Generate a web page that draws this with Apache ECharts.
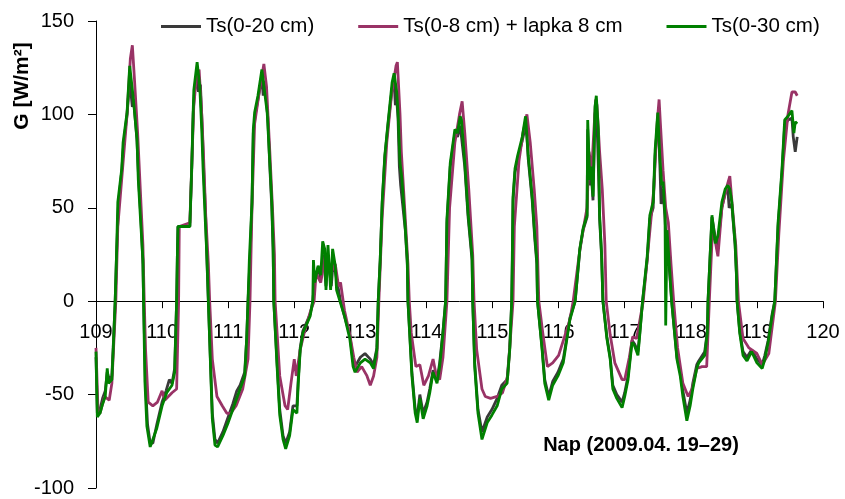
<!DOCTYPE html>
<html>
<head>
<meta charset="utf-8">
<script src="https://cdn.jsdelivr.net/npm/echarts@6/dist/echarts.min.js"></script>
<style>
html,body{margin:0;padding:0;background:#fff;}
#main{width:845px;height:499px;}
</style>
</head>
<body>
<div id="main"></div>
<script>
// tengely beosztások
var xTicks = [109, 120, 1];
var yTicks = [-100, 150, 50];
var names = ['Ts(0-20 cm)', 'Ts(0-8 cm) + lapka 8 cm', 'Ts(0-30 cm)'];

// [nap, G] párok, leolvasva az ábráról
var ts20 = [[109.00,-30],[109.02,-60],[109.06,-58],[109.10,-52],[109.14,-48],[109.17,-38],[109.20,-42],[109.24,-40],[109.26,-25],[109.29,0],[109.31,24],[109.34,52],[109.39,70],[109.42,85],[109.47,100],[109.51,118],[109.53,117],[109.55,104],[109.57,108],[109.62,86],[109.65,62],[109.68,44],[109.71,20],[109.72,0],[109.75,-45],[109.78,-66],[109.82,-76],[109.86,-76],[109.92,-66],[110.00,-54],[110.06,-48],[110.11,-42],[110.15,-44],[110.19,-36],[110.22,0],[110.23,22],[110.24,40],[110.42,40],[110.45,72],[110.47,100],[110.49,112],[110.53,120],[110.55,112],[110.58,116],[110.61,90],[110.63,70],[110.66,44],[110.68,20],[110.70,0],[110.76,-60],[110.80,-74],[110.84,-76],[110.92,-70],[111.00,-62],[111.07,-55],[111.13,-48],[111.18,-45],[111.25,-38],[111.28,-20],[111.30,0],[111.33,22],[111.36,52],[111.38,90],[111.41,100],[111.45,108],[111.51,120],[111.53,110],[111.55,118],[111.60,98],[111.63,72],[111.66,50],[111.68,27],[111.69,0],[111.74,-33],[111.78,-58],[111.83,-72],[111.87,-76],[111.93,-70],[111.98,-56],[112.04,-56],[112.06,-42],[112.09,-25],[112.13,-16],[112.24,-7],[112.28,0],[112.31,12],[112.36,18],[112.40,12],[112.44,25],[112.48,8],[112.51,24],[112.56,8],[112.59,22],[112.63,14],[112.70,0],[112.76,-8],[112.84,-18],[112.89,-32],[112.92,-35],[113.00,-30],[113.07,-28],[113.15,-31],[113.20,-34],[113.25,-25],[113.27,0],[113.30,22],[113.33,52],[113.37,77],[113.42,95],[113.48,114],[113.51,118],[113.53,105],[113.55,108],[113.57,98],[113.59,72],[113.61,62],[113.68,38],[113.71,20],[113.72,0],[113.78,-38],[113.83,-58],[113.86,-62],[113.90,-50],[113.95,-60],[114.01,-54],[114.05,-47],[114.10,-37],[114.16,-42],[114.20,-33],[114.25,-16],[114.29,0],[114.31,42],[114.36,72],[114.43,90],[114.47,88],[114.51,94],[114.53,88],[114.58,72],[114.63,45],[114.69,22],[114.70,0],[114.73,-33],[114.78,-58],[114.84,-70],[114.86,-71],[114.92,-62],[114.99,-58],[115.07,-52],[115.14,-45],[115.22,-42],[115.26,-25],[115.29,0],[115.31,54],[115.34,69],[115.38,76],[115.45,86],[115.50,94],[115.52,88],[115.54,76],[115.60,54],[115.64,33],[115.67,20],[115.68,0],[115.75,-25],[115.79,-42],[115.85,-51],[115.91,-43],[115.99,-38],[116.07,-31],[116.13,-18],[116.17,-9],[116.25,0],[116.32,27],[116.37,38],[116.43,45],[116.44,92],[116.47,62],[116.49,70],[116.52,54],[116.55,100],[116.57,105],[116.59,85],[116.61,60],[116.62,44],[116.65,24],[116.67,0],[116.73,-19],[116.78,-30],[116.82,-45],[116.88,-50],[116.96,-54],[117.00,-49],[117.05,-40],[117.11,-21],[117.15,-23],[117.20,-27],[117.23,-16],[117.27,0],[117.34,22],[117.38,44],[117.43,50],[117.46,78],[117.49,92],[117.51,96],[117.53,75],[117.55,52],[117.58,60],[117.61,44],[117.63,30],[117.67,20],[117.71,0],[117.79,-30],[117.84,-38],[117.88,-48],[117.94,-60],[117.99,-53],[118.03,-44],[118.09,-34],[118.12,-32],[118.21,-27],[118.25,-16],[118.26,0],[118.32,45],[118.37,34],[118.40,28],[118.47,50],[118.52,58],[118.56,60],[118.58,50],[118.62,52],[118.67,30],[118.69,14],[118.70,0],[118.74,-16],[118.79,-27],[118.85,-30],[118.92,-26],[119.00,-31],[119.08,-34],[119.12,-29],[119.17,-21],[119.23,-7],[119.27,0],[119.32,40],[119.38,69],[119.42,94],[119.47,97],[119.53,98],[119.55,88],[119.58,80],[119.61,88]];

var ts8 = [[109.00,-25],[109.03,-58],[109.06,-60],[109.13,-51],[109.20,-53],[109.24,-44],[109.30,0],[109.33,40],[109.40,70],[109.47,100],[109.52,130],[109.55,137],[109.58,120],[109.63,90],[109.67,60],[109.71,30],[109.73,0],[109.75,-26],[109.79,-54],[109.86,-56],[109.93,-54],[110.00,-48],[110.04,-53],[110.15,-49],[110.22,-47],[110.25,0],[110.26,40],[110.42,42],[110.45,74],[110.48,105],[110.52,120],[110.56,124],[110.60,100],[110.63,75],[110.66,46],[110.70,20],[110.72,0],[110.76,-31],[110.83,-51],[110.91,-56],[110.98,-60],[111.04,-60],[111.12,-56],[111.22,-47],[111.30,-31],[111.33,0],[111.36,50],[111.40,95],[111.47,112],[111.54,127],[111.58,115],[111.63,80],[111.67,50],[111.70,25],[111.71,0],[111.74,-17],[111.78,-40],[111.86,-56],[111.90,-58],[111.95,-44],[112.00,-31],[112.03,-40],[112.09,-26],[112.15,-17],[112.24,-6],[112.30,0],[112.33,15],[112.40,10],[112.47,25],[112.55,15],[112.62,20],[112.67,8],[112.70,10],[112.76,-5],[112.84,-18],[112.90,-30],[112.95,-38],[113.02,-35],[113.10,-40],[113.15,-45],[113.20,-40],[113.25,-30],[113.28,0],[113.33,45],[113.40,85],[113.47,110],[113.54,126],[113.56,128],[113.60,100],[113.62,80],[113.67,50],[113.72,20],[113.74,0],[113.77,-17],[113.84,-35],[113.90,-34],[113.96,-45],[114.03,-40],[114.10,-31],[114.15,-40],[114.20,-42],[114.25,-30],[114.31,0],[114.35,50],[114.43,85],[114.50,100],[114.54,107],[114.58,90],[114.64,60],[114.70,25],[114.72,0],[114.76,-26],[114.84,-47],[114.89,-51],[114.97,-52],[115.07,-51],[115.15,-49],[115.23,-40],[115.31,0],[115.33,40],[115.40,75],[115.46,90],[115.52,100],[115.57,85],[115.63,60],[115.67,40],[115.70,0],[115.76,-17],[115.83,-35],[115.91,-33],[116.00,-29],[116.08,-20],[116.17,-10],[116.22,0],[116.33,30],[116.43,50],[116.46,80],[116.50,70],[116.56,108],[116.58,105],[116.62,80],[116.66,60],[116.70,30],[116.72,0],[116.78,-18],[116.85,-33],[116.96,-42],[117.00,-42],[117.07,-30],[117.12,-19],[117.18,-20],[117.28,0],[117.36,30],[117.44,60],[117.49,95],[117.52,108],[117.54,95],[117.58,70],[117.62,50],[117.66,42],[117.70,20],[117.74,0],[117.80,-25],[117.88,-44],[117.96,-51],[118.02,-47],[118.09,-36],[118.17,-35],[118.24,-35],[118.28,0],[118.33,40],[118.41,24],[118.47,50],[118.55,62],[118.59,67],[118.63,50],[118.68,30],[118.72,0],[118.79,-20],[118.88,-25],[119.00,-28],[119.08,-34],[119.18,-28],[119.28,0],[119.33,35],[119.40,75],[119.47,100],[119.53,112],[119.58,112],[119.61,110]];

var ts30 = [[109.00,-27],[109.02,-62],[109.06,-60],[109.10,-55],[109.14,-51],[109.17,-36],[109.19,-44],[109.24,-42],[109.26,-26],[109.29,0],[109.31,24],[109.33,53],[109.39,71],[109.41,85],[109.47,101],[109.51,126],[109.53,127],[109.56,110],[109.62,87],[109.64,65],[109.67,46],[109.71,22],[109.72,0],[109.74,-43],[109.77,-67],[109.82,-78],[109.85,-78],[109.92,-68],[110.00,-56],[110.07,-49],[110.15,-45],[110.19,-38],[110.22,0],[110.23,22],[110.24,40],[110.42,40],[110.45,74],[110.47,101],[110.48,113],[110.53,128],[110.57,115],[110.60,92],[110.62,71],[110.65,46],[110.68,22],[110.70,0],[110.76,-63],[110.80,-77],[110.84,-78],[110.92,-72],[111.00,-65],[111.07,-58],[111.18,-47],[111.25,-40],[111.28,-20],[111.30,0],[111.32,22],[111.36,53],[111.38,92],[111.40,101],[111.45,110],[111.51,124],[111.59,101],[111.63,74],[111.66,53],[111.68,29],[111.69,0],[111.74,-35],[111.78,-61],[111.83,-74],[111.87,-79],[111.93,-72],[111.98,-58],[112.04,-60],[112.06,-44],[112.09,-26],[112.13,-17],[112.24,-8],[112.28,0],[112.29,22],[112.31,10],[112.36,19],[112.40,14],[112.43,32],[112.46,28],[112.48,6],[112.51,30],[112.55,6],[112.58,28],[112.62,19],[112.64,6],[112.70,-1],[112.76,-8],[112.84,-20],[112.89,-35],[112.92,-38],[113.00,-33],[113.07,-31],[113.15,-33],[113.20,-36],[113.25,-26],[113.27,0],[113.30,22],[113.33,53],[113.37,78],[113.42,96],[113.48,117],[113.51,122],[113.55,112],[113.57,101],[113.60,74],[113.63,65],[113.68,39],[113.71,22],[113.72,0],[113.78,-40],[113.83,-60],[113.86,-65],[113.90,-52],[113.95,-63],[114.01,-56],[114.05,-49],[114.10,-38],[114.16,-44],[114.20,-35],[114.25,-17],[114.29,0],[114.31,44],[114.36,74],[114.43,92],[114.47,90],[114.51,99],[114.53,97],[114.58,74],[114.63,47],[114.69,24],[114.70,0],[114.73,-35],[114.78,-60],[114.84,-74],[114.86,-75],[114.92,-65],[114.99,-61],[115.07,-56],[115.14,-47],[115.22,-44],[115.26,-26],[115.29,0],[115.30,22],[115.31,56],[115.34,71],[115.38,78],[115.45,88],[115.49,97],[115.50,99],[115.54,78],[115.60,56],[115.64,35],[115.67,22],[115.68,0],[115.75,-26],[115.79,-44],[115.85,-53],[115.91,-45],[115.99,-40],[116.07,-33],[116.13,-19],[116.17,-10],[116.25,0],[116.32,28],[116.37,39],[116.43,46],[116.44,97],[116.47,65],[116.49,72],[116.52,56],[116.55,104],[116.57,110],[116.60,92],[116.62,46],[116.65,25],[116.67,0],[116.73,-20],[116.78,-31],[116.82,-47],[116.88,-52],[116.96,-57],[117.00,-51],[117.05,-42],[117.11,-22],[117.15,-24],[117.20,-29],[117.23,-17],[117.27,0],[117.34,24],[117.38,46],[117.43,53],[117.46,81],[117.49,96],[117.50,101],[117.53,78],[117.56,62],[117.58,64],[117.61,46],[117.62,-13],[117.64,38],[117.67,22],[117.71,0],[117.79,-31],[117.84,-40],[117.88,-51],[117.94,-64],[117.99,-56],[118.03,-47],[118.09,-36],[118.12,-33],[118.21,-29],[118.25,-17],[118.26,0],[118.32,46],[118.37,31],[118.41,35],[118.47,53],[118.52,60],[118.56,62],[118.59,60],[118.62,53],[118.67,31],[118.69,15],[118.70,0],[118.74,-17],[118.79,-29],[118.85,-32],[118.92,-27],[119.00,-33],[119.08,-36],[119.12,-31],[119.17,-22],[119.23,-8],[119.27,0],[119.32,42],[119.38,71],[119.42,97],[119.47,99],[119.53,102],[119.56,90],[119.58,96],[119.61,95]];

var myChart = echarts.init(document.getElementById('main'));

var gridTop = 21, gridBottom = 11, gridH = 499 - gridTop - gridBottom;
// az x tengely a G=0 vonalon fut
var xOffset = -gridH * (0 - yTicks[0]) / (yTicks[1] - yTicks[0]);

function vonal(name, data, color){
	return {
		name: name,
		type: 'line',
		data: data,
		showSymbol: false,
		animation: false,
		lineStyle: {color: color, width: 2.8},
		itemStyle: {color: color}
	};
}

var option = {
	animation: false,
	textStyle: {fontFamily: 'Liberation Sans, Arial, sans-serif'},
	grid: {left: 96, right: 22, top: gridTop, bottom: gridBottom},
	legend: {
		top: 11,
		left: 156,
		icon: 'rect',
		itemWidth: 40,
		itemHeight: 3,
		itemGap: 44,
		textStyle: {color: '#000', fontSize: 20.5},
		data: names
	},
	xAxis: {
		type: 'value',
		position: 'bottom',
		offset: xOffset,
		min: xTicks[0],
		max: xTicks[1],
		interval: xTicks[2],
		axisLine: {onZero: false, lineStyle: {color: '#000', width: 1}},
		axisTick: {show: true, inside: false, length: 7, lineStyle: {color: '#000'}},
		axisLabel: {color: '#000', fontSize: 20, margin: 21},
		splitLine: {show: false}
	},
	yAxis: {
		type: 'value',
		min: yTicks[0],
		max: yTicks[1],
		interval: yTicks[2],
		axisLine: {show: true, onZero: false, lineStyle: {color: '#000', width: 1}},
		axisTick: {show: true, inside: false, length: 8, lineStyle: {color: '#000'}},
		axisLabel: {color: '#000', fontSize: 20, margin: 22},
		splitLine: {show: false}
	},
	graphic: [
		{
			type: 'text',
			x: 22, y: 86,
			rotation: Math.PI/2,
			style: {
				text: 'G [W/m²]',
				font: 'bold 21px Liberation Sans, Arial, sans-serif',
				fill: '#000',
				align: 'center',
				verticalAlign: 'middle'
			}
		},
		{
			type: 'text',
			x: 641, y: 445,
			style: {
				text: 'Nap (2009.04. 19–29)',
				font: 'bold 20px Liberation Sans, Arial, sans-serif',
				fill: '#000',
				align: 'center',
				verticalAlign: 'middle'
			}
		}
	],
	series: [
		vonal(names[0], ts20, '#3a3a3a'),
		vonal(names[1], ts8, '#993366'),
		vonal(names[2], ts30, '#008000')
	]
};

myChart.setOption(option);
</script>
</body>
</html>
